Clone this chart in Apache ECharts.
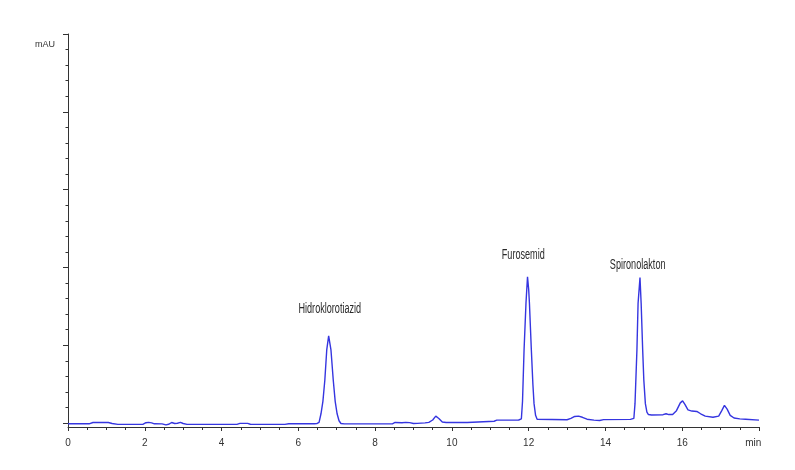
<!DOCTYPE html>
<html><head><meta charset="utf-8">
<script src="https://cdn.jsdelivr.net/npm/echarts@6/dist/echarts.min.js"></script>
<style>html,body{margin:0;padding:0;background:#fff}#c{width:795px;height:470px}</style>
</head><body><div id="c"></div>
<script>
// retention time (min) and detector signal (arbitrary mAU units, 0 = baseline tick)
const times = [0.00,0.55,0.65,1.05,1.15,1.3,1.95,2.03,2.1,2.18,2.25,2.45,2.55,2.62,2.7,2.78,2.85,2.93,3.0,3.1,4.4,4.48,4.68,4.75,5.65,5.75,6.42,
  6.48,6.54,6.59,6.64,6.69,6.74,6.79,6.85,6.91,6.96,7.01,7.06,7.11,7.2,8.45,8.52,8.7,8.8,8.9,9.0,9.1,9.3,9.4,9.5,9.58,9.66,9.75,9.85,10.4,10.45,11.1,11.17,11.74,
  11.78,11.81,11.84,11.88,11.93,11.97,12.0,12.02,12.07,12.11,12.14,12.18,12.22,12.27,13.0,13.1,13.2,13.3,13.4,13.52,13.7,13.85,13.95,14.65,
  14.7,14.74,14.77,14.82,14.85,14.9,14.93,14.97,15.0,15.04,15.08,15.12,15.2,15.5,15.58,15.65,15.75,15.85,15.95,16.01,16.07,16.15,16.25,16.38,16.48,16.6,16.8,16.95,17.03,17.1,17.17,17.25,17.35,17.5,17.65,17.7,18.0];
const signal = [-0.9,-0.9,0.8,0.8,-0.5,-1.6,-1.6,0.5,1.0,0.3,-0.9,-1.0,-2.2,-1.5,0.8,-0.5,-0.2,0.9,-0.5,-1.6,-1.6,-0.3,-0.3,-1.5,-1.6,-0.9,-0.9,
  -0.6,1,12,28,55,94,112,94,55,28,12,3,-0.5,-1.0,-1.0,0.8,0.5,1.0,0.6,-0.5,-0.4,0.3,1.0,4,9,6,1.5,0.8,0.8,2.2,2.4,3.8,4,
  4.2,5.5,28,94,154,188,172,154,94,50,25,10,5,4.3,4.3,6,8.5,9,7.5,5,3.8,3.4,4.5,4.8,
  4.8,6,25,94,154,187,154,94,55,25,14,11,10.5,10.8,12,11,11,16,26,28.6,24,17,15.5,15,12,9,7.5,9,16,22.7,18,10,6.5,5.5,5,4.0,3.8];

// peak labels: name, label anchor time, label anchor level
const peakNames = ['Hidroklorotiazid','Furosemid','Spironolakton'];
const peakLabelTimes = [6.82, 11.86, 14.84];
const peakLabelLevels = [146, 216, 203];

const xLabelValues = [0,2,4,6,8,10,12,14,16,17.85];
const yMajorTicks = [0,100,200,300,400,500];
const yMinorTicks = [0,20,40,60,80,100,120,140,160,180,200,220,240,260,280,300,320,340,360,380,400,420,440,460,480,500];

const chart = echarts.init(document.getElementById('c'), null, {renderer:'canvas'});
const axisColor = '#333';
chart.setOption({
  animation:false,
  grid:{left:68,right:36,top:34,bottom:43},
  xAxis:{type:'value',min:0,max:18,interval:2,
    axisLine:{show:true,onZero:false,lineStyle:{color:axisColor,width:1}},
    axisTick:{show:true,length:4,lineStyle:{color:axisColor}},
    minorTick:{show:true,splitNumber:4,length:3,lineStyle:{color:axisColor}},
    splitLine:{show:false},
    axisLabel:{customValues:xLabelValues,margin:11,color:'#333',fontSize:10,fontFamily:'Liberation Sans Narrow, Liberation Sans, Arial',
      formatter:v=> v>17 ? 'min' : String(v)}
  },
  yAxis:[
    {type:'value',min:-5,max:500,position:'left',
      name:'mAU',nameLocation:'end',nameGap:-6,
      nameTextStyle:{color:'#333',fontSize:9,fontFamily:'Liberation Sans Narrow, Liberation Sans, Arial',align:'right',verticalAlign:'top',padding:[0,13,0,0]},
      axisLine:{show:true,onZero:false,lineStyle:{color:axisColor,width:1}},
      axisTick:{show:true,customValues:yMajorTicks,length:5,lineStyle:{color:axisColor}},
      axisLabel:{show:false},splitLine:{show:false}},
    {type:'value',min:-5,max:500,position:'left',
      axisLine:{show:false},
      axisTick:{show:true,customValues:yMinorTicks,length:2.5,lineStyle:{color:axisColor}},
      axisLabel:{show:false},splitLine:{show:false}}
  ],
  series:[
    {type:'line',yAxisIndex:0,data:times.map((t,i)=>[t,signal[i]]),showSymbol:false,symbol:'none',
      lineStyle:{color:'#3535e0',width:1.4},z:3},
    {type:'custom',yAxisIndex:0,data:peakNames.map((n,i)=>[peakLabelTimes[i],peakLabelLevels[i],n]),
      renderItem:function(params,api){
        const p = api.coord([api.value(0),api.value(1)]);
        return {type:'text',x:p[0],y:p[1],scaleX:0.65,
          style:{text:peakNames[params.dataIndex],fontSize:14,fontFamily:'Liberation Sans, Arial',fill:'#2a2a2a',align:'center',verticalAlign:'middle'}};
      },z:4}
  ]
});
</script></body></html>
